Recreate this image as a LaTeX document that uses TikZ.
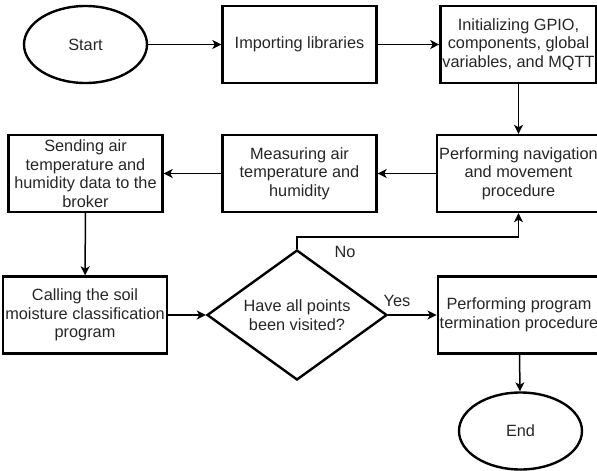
\documentclass[tikz,border=0pt]{standalone}
\usepackage{fontspec}
\setmainfont{Liberation Sans}
\usetikzlibrary{arrows.meta,shapes.geometric,calc}

\tikzset{
  procbox/.style={draw, line width=2.4pt, minimum width=154pt, minimum height=77pt,
    align=center, inner sep=2pt, text=black!85, font=\fontsize{16.3}{18.5}\selectfont},
  termin/.style={draw, ellipse, line width=2.4pt, minimum width=123pt, minimum height=77pt,
    text=black!85, font=\fontsize{16.3}{18.5}\selectfont},
  decide/.style={draw, diamond, line width=2.4pt, minimum width=180pt, minimum height=130pt,
    inner sep=0pt, shape aspect=1.38, align=center, text=black!85,
    font=\fontsize{16.3}{18.5}\selectfont},
  flow/.style={line width=1.5pt, -{Stealth[length=9pt,width=9pt,inset=2.5pt]}},
  lbl/.style={font=\fontsize{16.3}{18.5}\selectfont, text=black!85, inner sep=0pt}
}

\begin{document}
\begin{tikzpicture}[x=1pt,y=-1pt]
\useasboundingbox (0,0) rectangle (597,471);
%top row
\node[termin] (start) at (85.5,44.5) {Start};
\node[procbox] (import) at (299.5,44.5) {Importing libraries};
\node[procbox] (init) at (518.5,44.5) {Initializing GPIO,\\components, global\\variables, and MQTT};
%second row
\node[procbox] (nav) at (518.5,173.5) {Performing navigation\\and movement\\procedure};
\node[procbox] (measure) at (299.5,173.5) {Measuring air\\temperature and\\humidity};
\node[procbox] (send) at (85.5,173.5) {Sending air\\temperature and\\humidity data to the\\broker};
%third row
\node[procbox] (call) at (85,315) {Calling the soil\\moisture classification\\program};
\node[decide] (check) at (297,315) {Have all points\\been visited?};
\node[procbox] (term) at (519,315) {Performing program\\termination procedure};
%end
\node[termin] (end) at (520.5,431) {End};
%connectors
\draw[flow] (start) -- (import);
\draw[flow] (import) -- (init);
\draw[flow] (init) -- (nav);
\draw[flow] (nav) -- (measure);
\draw[flow] (measure) -- (send);
\draw[flow] (send) -- (call);
\draw[flow] (call) -- (check);
\draw[flow] (check.north) -- ++(0,-12) -| (nav.south);
\node[lbl] (no) at (345,252) {No};
\draw[flow] (check.east) -- (term);
\node[lbl] (yes) at (397,301) {Yes};
\draw[flow] (term) -- (end);
\end{tikzpicture}
\end{document}
